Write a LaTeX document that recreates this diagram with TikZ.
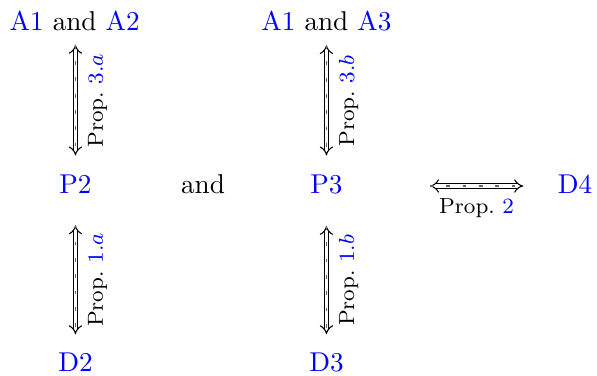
\documentclass[tikz,border=0pt]{standalone}
\usepackage{amsmath,amssymb}
\usepackage{tikz}
\usetikzlibrary{arrows.meta}
\newcommand{\lnk}[1]{\textcolor{blue}{#1}}

\begin{document}
\begin{tikzpicture}[
  equiv/.style={double,double distance=1.3pt,line width=0.4pt,{Implies[scale=1.5]}-{Implies[scale=1.5]},
    postaction={draw=black!60,-,line width=0.45pt,dash pattern=on 1.4pt off 4.6pt}},
  prop/.style={font=\footnotesize,inner sep=4.4pt,anchor=north}]
\useasboundingbox (0,0) rectangle (7.714,-4.858);
\node[anchor=base] (A12) at (0.965,-0.394) {\lnk{A1} and \lnk{A2}};
\node[anchor=base] (A13) at (4.218,-0.394) {\lnk{A1} and \lnk{A3}};
\node[anchor=base] (P2) at (0.975,-2.506) {\lnk{P2}};
\node[anchor=base] (and) at (2.623,-2.506) {and};
\node[anchor=base] (P3) at (4.218,-2.506) {\lnk{P3}};
\node[anchor=base] (D4) at (7.43,-2.506) {\lnk{D4}};
\node[anchor=base] (D2) at (0.975,-4.806) {\lnk{D2}};
\node[anchor=base] (D3) at (4.218,-4.806) {\lnk{D3}};
\coordinate (E) at (5.233,-2.403);
% equivalences
\draw[equiv,shorten <=1.6pt,shorten >=3.8pt] (A12.south -| P2) -- node[prop,rotate=90,pos=0.48] {Prop.~\lnk{$3.a$}} (P2.north);
\draw[equiv,shorten <=1.6pt,shorten >=3.8pt] (A13.south) -- node[prop,rotate=90,pos=0.48] {Prop.~\lnk{$3.b$}} (P3.north);
\draw[equiv,shorten <=8pt,shorten >=3.5pt] (P2.south) -- node[prop,rotate=90,pos=0.545] {Prop.~\lnk{$1.a$}} (D2.north);
\draw[equiv,shorten <=8pt,shorten >=3.5pt] (P3.south) -- node[prop,rotate=90,pos=0.545] {Prop.~\lnk{$1.b$}} (D3.north);
\draw[equiv,shorten <=9.2pt,shorten >=9.2pt] (E) -- node[prop] {Prop.~\lnk{$2$}} (E -| D4.west);
\end{tikzpicture}
\end{document}
